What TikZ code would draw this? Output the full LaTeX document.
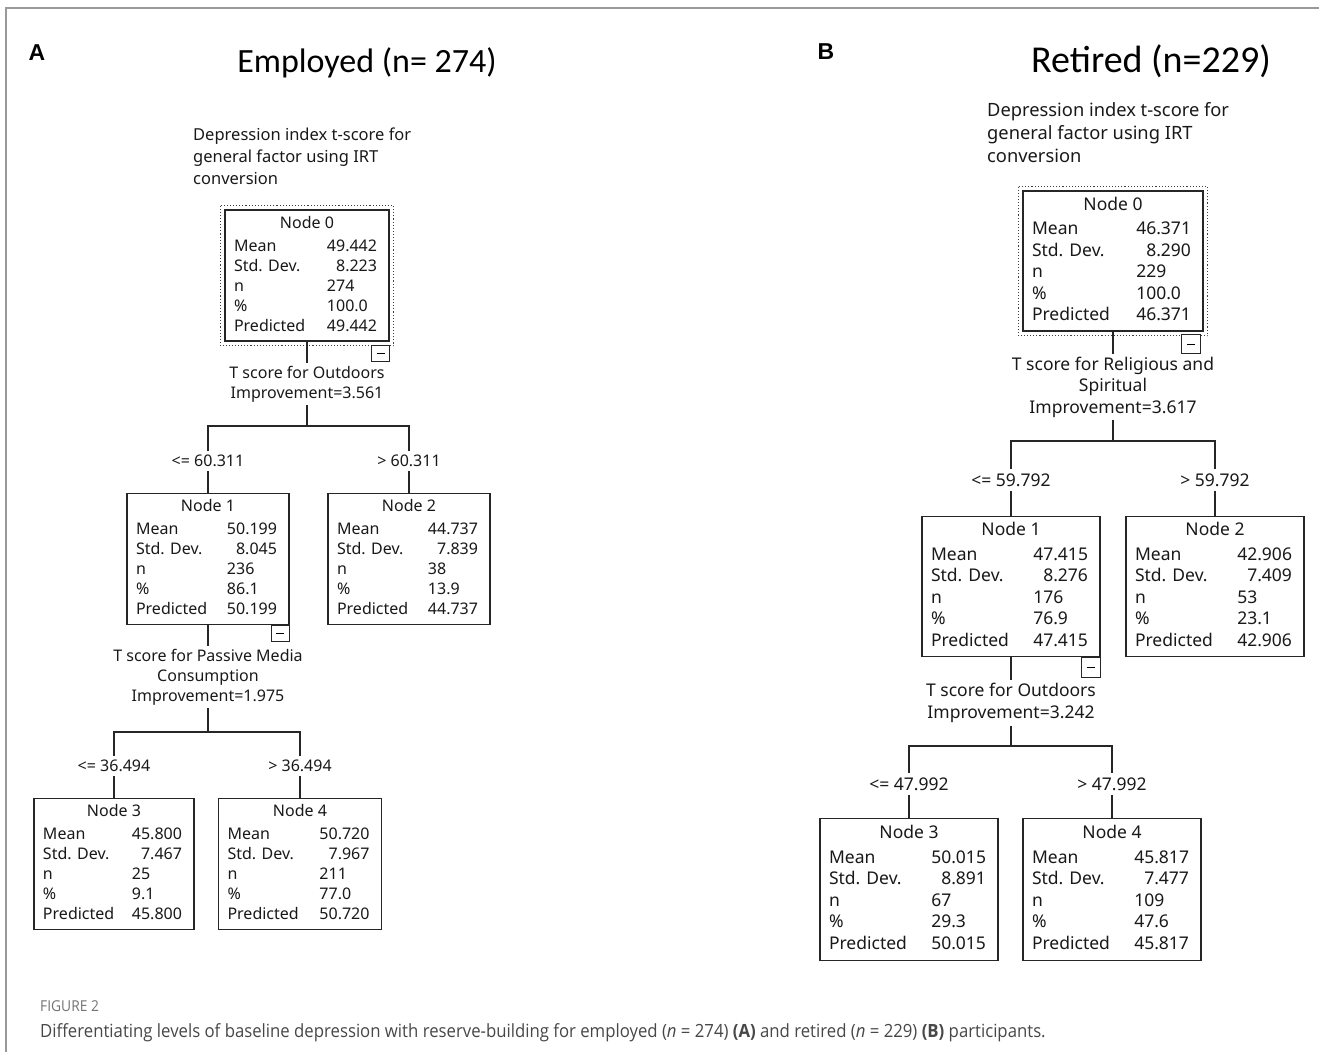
\documentclass[tikz,border=0pt]{standalone}
\usepackage{fontspec}
\setmainfont{Noto Sans}
\newfontfamily\titlefont{Carlito}
\newfontfamily\panelfont{Liberation Sans}
\newfontfamily\capfont[FakeStretch=0.92]{Open Sans}
\usetikzlibrary{calc}

% contents of one tree node
\newcommand{\nodestats}[7]{%
  \begin{tabular*}{#1}{@{\hspace{9pt}}l@{\extracolsep{\fill}}r@{\hspace{12pt}}}
    \multicolumn{2}{@{}c@{}}{#2}\\[3pt]
    Mean & #3\\
    Std. Dev. & #4\\
    n & \rlap{#5}\phantom{00.000}\\
    \% & \rlap{#6}\phantom{00.000}\\
    Predicted & #7
  \end{tabular*}}

\tikzset{
  treeA/.style={font=\fontsize{16}{20}\selectfont},
  treeB/.style={font=\fontsize{17.5}{21.5}\selectfont},
  statbox/.style={draw=black!85, line width=1.2pt, inner xsep=0pt, inner ysep=4pt,
    anchor=north, fill=white, text=black!90},
  rootbox/.style={statbox, line width=2.4pt},
  dotframe/.style={draw=black!75, line width=1.1pt, dotted},
  togglebox/.style={draw=black!85, line width=1pt, fill=white, inner sep=0pt,
    minimum width=18pt, minimum height=16pt, anchor=north east},
  splittext/.style={align=center, inner sep=3pt, text=black!90},
  condtext/.style={inner sep=4pt, text=black!90},
  headtext/.style={align=left, inner sep=0pt, anchor=north west, text=black!90},
  link/.style={draw=black!85, line width=1.2pt},
  framegray/.style={draw=black!40, line width=2pt},
}

\begin{document}
\begin{tikzpicture}[x=1pt, y=-1pt]
  \useasboundingbox (0,0) rectangle (1319,1052);
  \draw[framegray] (6,1052) -- (6,8) -- (1319,8);

  % ---------------- panel A ----------------
  \node[font=\panelfont\bfseries\fontsize{23}{26}\selectfont] (labA) at (37,53) {A};
  \node[font=\titlefont\fontsize{34}{40}\selectfont] (titA) at (367,63) {Employed (n= 274)};
  \node[headtext, font=\fontsize{16.5}{22}\selectfont] (hdA) at (193,128)
    {Depression index t-score for\\general factor using IRT\\conversion};

  % nodes
  \node[rootbox, treeA, minimum height=131pt] (n0) at (307,209)
    {\nodestats{164pt}{Node 0}{49.442}{8.223}{274}{100.0}{49.442}};
  \node[statbox, treeA, minimum height=131pt] (n1) at (208,493)
    {\nodestats{162pt}{Node 1}{50.199}{8.045}{236}{86.1}{50.199}};
  \node[statbox, treeA, minimum height=131pt] (n2) at (409,493)
    {\nodestats{162pt}{Node 2}{44.737}{7.839}{38}{13.9}{44.737}};
  \node[statbox, treeA, minimum height=131pt] (n3) at (114,798)
    {\nodestats{160pt}{Node 3}{45.800}{7.467}{25}{9.1}{45.800}};
  \node[statbox, treeA, minimum height=131pt] (n4) at (300,798)
    {\nodestats{163pt}{Node 4}{50.720}{7.967}{211}{77.0}{50.720}};
  \draw[dotframe] ([xshift=-3.5pt,yshift=3.5pt]n0.north west)
    rectangle ([xshift=3.5pt,yshift=-3.5pt]n0.south east);
  \node[togglebox] (t0) at ([yshift=-3pt]n0.south east) {\rule{8pt}{1pt}};
  \node[togglebox] (t1) at (n1.south east) {\rule{8pt}{1pt}};

  % splits
  \node[splittext, treeA] (s0) at (307,384) {T score for Outdoors\\Improvement=3.561};
  \node[splittext, treeA] (s1) at (208,677)
    {T score for Passive Media\\Consumption\\Improvement=1.975};
  \coordinate (j0) at (307,426);
  \coordinate (j1) at (208,732);
  \node[condtext, treeA] (c1) at (208,461) {<= 60.311};
  \node[condtext, treeA] (c2) at (409,461) {> 60.311};
  \node[condtext, treeA] (c3) at (114,766) {<= 36.494};
  \node[condtext, treeA] (c4) at (300,766) {> 36.494};

  % connectors
  \draw[link] (n0.south) -- (s0.north);
  \draw[link] (s0.south) -- (j0);
  \draw[link] (c1.north) |- (j0) -| (c2.north);
  \draw[link] (c1.south) -- (n1.north);
  \draw[link] (c2.south) -- (n2.north);
  \draw[link] (n1.south) -- (s1.north);
  \draw[link] (s1.south) -- (j1);
  \draw[link] (c3.north) |- (j1) -| (c4.north);
  \draw[link] (c3.south) -- (n3.north);
  \draw[link] (c4.south) -- (n4.north);

  % ---------------- panel B ----------------
  \node[font=\panelfont\bfseries\fontsize{23}{26}\selectfont] (labB) at (826,52) {B};
  \node[font=\titlefont\fontsize{38}{44}\selectfont] (titB) at (1151,61) {Retired (n=229)};
  \node[headtext, font=\fontsize{18.3}{23}\selectfont] (hdB) at (987,102)
    {Depression index t-score for\\general factor using IRT\\conversion};

  % nodes
  \node[rootbox, treeB, minimum height=140pt] (m0) at (1113,190)
    {\nodestats{180pt}{Node 0}{46.371}{8.290}{229}{100.0}{46.371}};
  \node[statbox, treeB, minimum height=139pt] (m1) at (1011,516)
    {\nodestats{178pt}{Node 1}{47.415}{8.276}{176}{76.9}{47.415}};
  \node[statbox, treeB, minimum height=139pt] (m2) at (1215,516)
    {\nodestats{178pt}{Node 2}{42.906}{7.409}{53}{23.1}{42.906}};
  \node[statbox, treeB, minimum height=142pt] (m3) at (909,818)
    {\nodestats{178pt}{Node 3}{50.015}{8.891}{67}{29.3}{50.015}};
  \node[statbox, treeB, minimum height=142pt] (m4) at (1112,818)
    {\nodestats{178pt}{Node 4}{45.817}{7.477}{109}{47.6}{45.817}};
  \draw[dotframe] ([xshift=-3.5pt,yshift=3.5pt]m0.north west)
    rectangle ([xshift=3.5pt,yshift=-3.5pt]m0.south east);
  \node[togglebox, minimum width=19pt, minimum height=19pt] (u0)
    at ([xshift=-3pt,yshift=-2pt]m0.south east) {\rule{8pt}{1pt}};
  \node[togglebox, minimum width=19pt, minimum height=20pt] (u1)
    at (m1.south east) {\rule{8pt}{1pt}};

  % splits
  \node[splittext, treeB] (r0) at (1113,387)
    {T score for Religious and\\Spiritual\\Improvement=3.617};
  \node[splittext, treeB] (r1) at (1011,703) {T score for Outdoors\\Improvement=3.242};
  \coordinate (k0) at (1113,441);
  \coordinate (k1) at (1011,746);
  \node[condtext, treeB] (d1) at (1011,480) {<= 59.792};
  \node[condtext, treeB] (d2) at (1215,480) {> 59.792};
  \node[condtext, treeB] (d3) at (909,784) {<= 47.992};
  \node[condtext, treeB] (d4) at (1112,784) {> 47.992};

  % connectors
  \draw[link] (m0.south) -- (r0.north);
  \draw[link] (r0.south) -- (k0);
  \draw[link] (d1.north) |- (k0) -| (d2.north);
  \draw[link] (d1.south) -- (m1.north);
  \draw[link] (d2.south) -- (m2.north);
  \draw[link] (m1.south) -- (r1.north);
  \draw[link] (r1.south) -- (k1);
  \draw[link] (d3.north) |- (k1) -| (d4.north);
  \draw[link] (d3.south) -- (m3.north);
  \draw[link] (d4.south) -- (m4.north);

  % caption
  \node[anchor=base west, inner sep=0pt, text=black!55,
    font=\capfont\fontsize{15}{17}\selectfont] (figno) at (40,1011) {FIGURE 2};
  \node[anchor=base west, inner sep=0pt, text=black!72,
    font=\capfont\fontsize{18.2}{21}\selectfont] (cap) at (40,1037)
    {Differentiating levels of baseline depression with reserve-building for employed
     ({\itshape n} = 274) \textbf{(A)} and retired ({\itshape n} = 229) \textbf{(B)} participants.};
\end{tikzpicture}
\end{document}
